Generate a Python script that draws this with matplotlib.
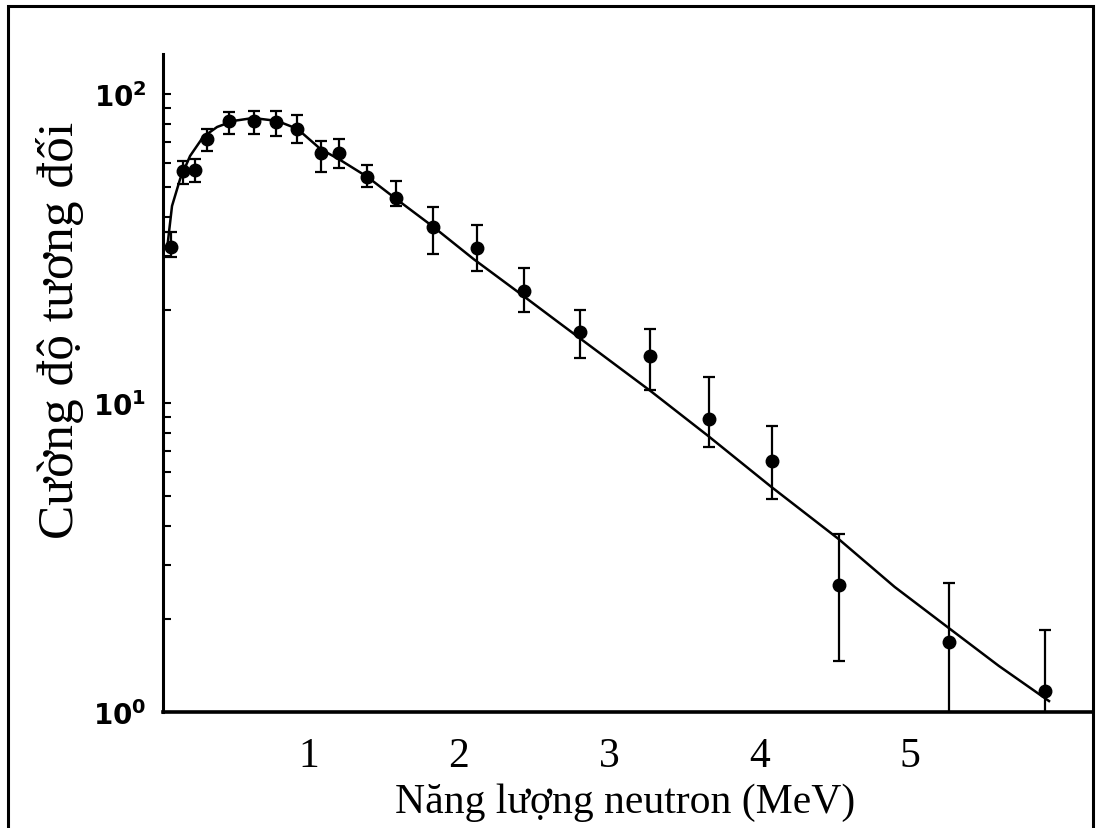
import numpy as np
import matplotlib
matplotlib.use("Agg")
import matplotlib.pyplot as plt
from matplotlib.patches import Rectangle
from matplotlib.ticker import LogLocator, NullFormatter

# measured points: energy (MeV), relative intensity, error bar ends
energy = [0.085, 0.167, 0.247, 0.327, 0.473, 0.64, 0.787, 0.927, 1.087, 1.207, 1.387,
          1.58, 1.827, 2.12, 2.433, 2.807, 3.273, 3.667, 4.087, 4.527, 5.26, 5.90]
intensity = [32.0, 56.3, 56.8, 71.5, 81.8, 81.8, 81.2, 77.1, 64.4, 64.4, 53.9,
             46.1, 37.1, 31.7, 23.0, 17.0, 14.2, 8.88, 6.49, 2.58, 1.685, 1.17]
err_high = [35.8, 60.7, 61.5, 77.1, 87.5, 88.1, 88.1, 85.5, 70.4, 71.5, 58.9,
            52.3, 43.1, 37.7, 27.3, 20.0, 17.4, 12.1, 8.43, 3.77, 2.62, 1.84]
err_low = [29.7, 51.1, 52.0, 65.4, 74.2, 74.2, 73.1, 69.4, 55.9, 57.6, 50.0,
           43.4, 30.4, 26.8, 19.7, 14.0, 11.0, 7.2, 4.89, 1.46, 0.95, 0.95]

# fitted curve
curve_e = [0.06, 0.093, 0.147, 0.213, 0.30, 0.393, 0.50, 0.633, 0.793, 0.927, 1.08,
           1.213, 1.393, 1.567, 1.833, 2.10, 2.393, 2.66, 2.947, 3.28, 3.66, 4.08,
           4.527, 4.90, 5.26, 5.593, 5.927]
curve_i = [31.5, 43.4, 53.1, 63.0, 72.6, 78.2, 81.8, 83.6, 81.8, 77.1, 66.4,
           61.1, 53.9, 46.4, 37.1, 29.2, 22.9, 18.3, 14.4, 10.9, 7.82, 5.35,
           3.63, 2.54, 1.87, 1.41, 1.085]

x_ticks = [1, 2, 3, 4, 5]
y_ticks = [1, 10, 100]
y_tick_labels = [r"$\mathbf{10^{0}}$", r"$\mathbf{10^{1}}$", r"$\mathbf{10^{2}}$"]

W, H = 1098, 829
plt.rcParams["mathtext.fontset"] = "dejavusans"
fig = plt.figure(figsize=(W / 100, H / 100), dpi=100)
ax = fig.add_axes([163 / W, 1 - 713 / H, (1092 - 163) / W, (713 - 55) / H])

y = np.array(intensity)
yerr = [y - np.array(err_low), np.array(err_high) - y]
ax.errorbar(energy, intensity, yerr=yerr, fmt="o", color="black", ms=9,
            elinewidth=1.6, capsize=4.5, capthick=1.6, zorder=3)
ax.plot(curve_e, curve_i, color="black", lw=1.8, zorder=2)

ax.set_yscale("log")
ax.set_xlim(0.033, 6.213)
ax.set_ylim(1.0, 134.7)

ax.set_yticks(y_ticks)
ax.set_yticklabels(y_tick_labels, fontsize=20)
ax.yaxis.set_minor_locator(LogLocator(base=10, subs=np.arange(2, 10)))
ax.yaxis.set_minor_formatter(NullFormatter())
ax.tick_params(axis="y", which="both", direction="in", length=6, width=1.5, pad=12)

ax.set_xticks(x_ticks)
ax.set_xticklabels([str(t) for t in x_ticks], fontsize=30, family="Liberation Serif")
ax.tick_params(axis="x", length=0, pad=18)

for s in ["top", "right"]:
    ax.spines[s].set_visible(False)
ax.spines["left"].set_linewidth(2.2)
ax.spines["bottom"].set_linewidth(2.6)

fig.text(625 / W, 1 - 813 / H, "Năng lượng neutron (MeV)", ha="center", va="baseline",
         fontsize=30, family="Liberation Serif")
fig.text(60 / W, 1 - 330 / H, "Cường độ tương đối", ha="center", va="center",
         rotation=90, fontsize=37, family="Liberation Serif")

# outer frame
fig.patches.append(Rectangle((8 / W, -0.02), (1093 - 8) / W, 1.02 - 7 / H,
                             transform=fig.transFigure, fill=False, lw=2.2,
                             ec="black"))

fig.savefig("out.png", dpi=100)
